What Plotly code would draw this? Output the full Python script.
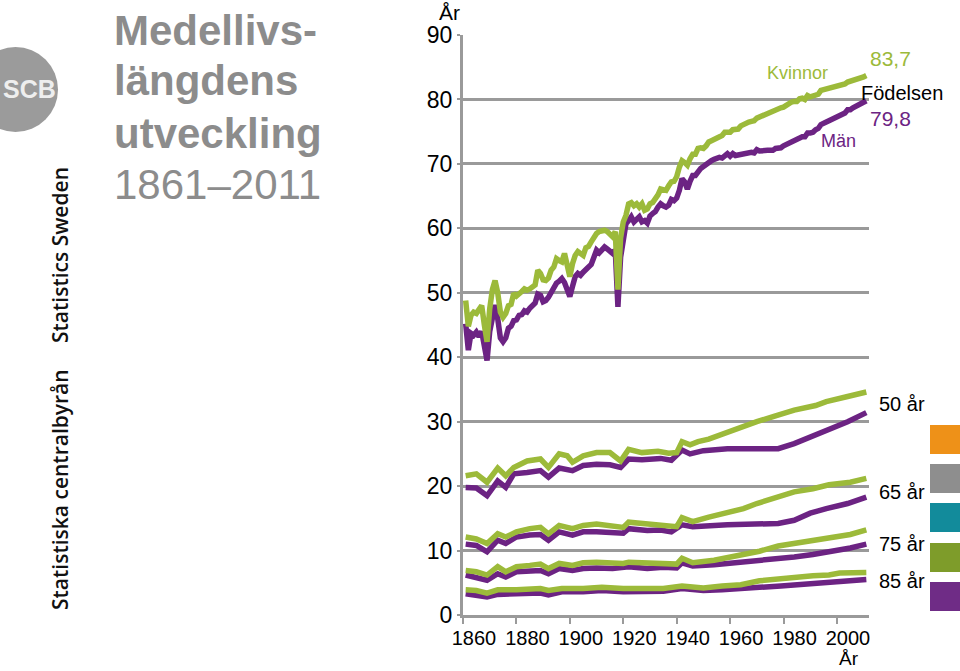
import plotly.graph_objects as go

# ---------------- data ----------------
years = list(range(1861, 2012))

women_birth = [
    48.8, 44.8, 46.5, 47.0, 46.8, 47.5, 48.0, 45.0, 42.4, 47.5,
    50.5, 51.9, 50.0, 47.0, 46.2, 46.8, 48.0, 48.2, 49.9, 49.5,
    50.0, 50.2, 50.6, 50.4, 50.6, 51.0, 51.2, 53.5, 53.0, 52.0,
    51.9, 52.3, 53.5, 54.0, 55.3, 55.0, 54.8, 56.1, 54.5, 52.5,
    54.5, 55.8, 56.4, 56.0, 55.8, 57.0, 57.2, 57.9, 58.8, 59.2,
    59.5, 59.7, 59.7, 59.5, 59.0, 58.7, 59.5, 50.5, 58.5, 61.0,
    62.0, 63.8, 64.0, 63.5, 63.8, 63.3, 63.8, 62.8, 63.0, 63.8,
    64.0, 64.5, 65.2, 66.1, 66.0, 65.9, 66.6, 67.2, 67.3, 68.0,
    69.5, 70.5, 70.2, 69.8, 70.8, 71.5, 71.5, 72.4, 72.5, 72.4,
    72.8, 73.4, 73.6, 73.8, 74.0, 74.4, 74.4, 74.9, 75.0, 74.9,
    75.3, 75.3, 75.4, 75.9, 76.1, 76.5, 76.5, 76.6, 76.7, 77.1,
    77.3, 77.4, 77.6, 77.8, 77.9, 78.1, 78.5, 78.6, 78.7, 78.8,
    79.1, 79.4, 79.6, 79.7, 79.7, 80.1, 80.2, 80.0, 80.6, 80.4,
    80.5, 80.8, 80.8, 81.4, 81.5, 81.5, 81.8, 81.9, 81.9, 82.0,
    82.1, 82.1, 82.4, 82.7, 82.8, 82.9, 83.0, 83.2, 83.3, 83.5,
    83.7,
]
men_birth = [
    45.2, 41.1, 43.7, 43.4, 43.9, 43.2, 44.0, 41.5, 39.5, 44.0,
    46.5, 48.1, 46.0, 43.0, 42.4, 43.0, 44.5, 44.8, 45.7, 45.8,
    46.5, 46.6, 47.2, 47.0, 47.6, 47.9, 48.4, 49.8, 49.6, 48.6,
    48.8, 49.3, 50.2, 50.9, 51.5, 51.8, 52.2, 51.6, 50.3, 49.4,
    51.0, 52.5, 53.0, 52.7, 53.2, 53.5, 54.0, 54.4, 55.6, 56.6,
    56.2, 56.8, 57.1, 56.8, 56.5, 56.1, 56.6, 47.8, 55.5, 59.0,
    60.7, 61.2, 61.8, 61.0, 61.5, 61.8, 61.0, 61.2, 60.8, 61.9,
    62.3, 62.6, 63.3, 63.8, 63.5, 63.3, 63.6, 64.5, 64.3, 64.7,
    65.9, 67.7, 67.2, 66.1, 67.3, 68.2, 68.2, 68.9, 69.3, 69.6,
    69.9, 70.4, 70.5, 70.7, 70.9, 71.0, 70.9, 71.4, 71.6, 71.2,
    71.6, 71.3, 71.4, 71.6, 71.6, 71.7, 71.9, 71.8, 71.7, 72.2,
    72.0, 72.1, 72.1, 72.1, 72.1, 72.1, 72.4, 72.4, 72.5, 72.8,
    73.0, 73.4, 73.6, 73.8, 73.8, 74.0, 74.2, 74.2, 74.8, 74.8,
    74.9, 75.3, 75.5, 76.1, 76.2, 76.5, 76.7, 76.9, 77.0, 77.4,
    77.6, 77.7, 77.9, 78.4, 78.4, 78.7, 78.9, 79.1, 79.3, 79.5,
    79.8,
]

w50_years = [1861, 1865, 1869, 1873, 1876, 1879, 1884, 1889, 1892, 1896, 1899, 1901, 1905, 1910, 1915, 1919,
             1922, 1927, 1933, 1937, 1940, 1942, 1945, 1948, 1952, 1959, 1964, 1970, 1977, 1984, 1992, 1996, 2004, 2011]
w50 = [21.6, 21.9, 20.6, 22.8, 21.6, 22.9, 23.9, 24.2, 22.9, 25.0, 24.7, 23.7, 24.7, 25.2, 25.2, 23.9,
       25.7, 25.2, 25.4, 25.1, 25.2, 26.9, 26.4, 26.9, 27.3, 28.4, 29.0, 30.0, 30.9, 31.8, 32.5, 33.1, 33.9, 34.6]
m50_years = [1861, 1865, 1869, 1873, 1876, 1879, 1884, 1889, 1892, 1896, 1901, 1905, 1910, 1915, 1919, 1922,
             1927, 1934, 1938, 1942, 1945, 1950, 1959, 1971, 1978, 1984, 1990, 1996, 2004, 2011]
m50 = [19.8, 19.7, 18.5, 20.8, 19.8, 21.9, 22.1, 22.4, 21.4, 22.8, 22.4, 23.2, 23.4, 23.3, 22.9, 24.2,
       24.1, 24.3, 24.0, 25.6, 25.0, 25.5, 25.8, 25.8, 25.8, 26.6, 27.6, 28.7, 30.0, 31.4]

w65_years = [1861, 1865, 1869, 1873, 1876, 1880, 1885, 1889, 1892, 1896, 1901, 1905, 1910, 1916, 1920, 1922,
             1929, 1935, 1940, 1942, 1946, 1952, 1959, 1965, 1970, 1977, 1984, 1991, 1997, 2005, 2011]
w65 = [12.1, 11.8, 11.1, 12.6, 12.1, 12.9, 13.4, 13.6, 12.6, 13.9, 13.4, 13.9, 14.1, 13.9, 13.6, 14.4,
       14.1, 13.8, 13.7, 15.1, 14.5, 15.2, 15.8, 16.5, 17.3, 18.2, 19.1, 19.6, 20.2, 20.6, 21.2]
m65_years = [1861, 1865, 1869, 1873, 1876, 1880, 1885, 1889, 1892, 1896, 1901, 1905, 1910, 1916, 1920, 1922,
             1929, 1934, 1938, 1942, 1946, 1959, 1970, 1978, 1984, 1990, 1996, 2004, 2011]
m65 = [11.0, 10.8, 9.8, 11.6, 11.1, 12.1, 12.4, 12.5, 11.6, 12.9, 12.4, 12.9, 12.9, 12.9, 12.7, 13.4,
       13.1, 13.2, 12.9, 14.0, 13.7, 14.0, 14.0, 14.2, 14.7, 15.8, 16.5, 17.3, 18.3]

w75_years = [1861, 1865, 1869, 1873, 1876, 1880, 1885, 1889, 1892, 1896, 1901, 1905, 1910, 1916, 1920, 1922,
             1929, 1935, 1940, 1942, 1946, 1954, 1960, 1966, 1971, 1978, 1984, 1991, 1997, 2005, 2011]
w75 = [6.9, 6.7, 6.2, 7.5, 6.7, 7.5, 7.7, 7.9, 7.2, 8.0, 7.7, 8.1, 8.2, 8.0, 8.0, 8.2,
       8.0, 8.0, 7.9, 8.8, 8.1, 8.5, 9.0, 9.4, 9.9, 10.7, 11.1, 11.6, 12.0, 12.5, 13.2]
m75_years = [1861, 1865, 1869, 1873, 1876, 1880, 1885, 1889, 1892, 1896, 1901, 1905, 1910, 1916, 1922, 1929,
             1935, 1940, 1942, 1946, 1954, 1960, 1970, 1978, 1984, 1991, 1997, 2005, 2011]
m75 = [6.2, 5.9, 5.4, 6.4, 5.9, 6.7, 6.8, 6.9, 6.4, 7.2, 6.9, 7.2, 7.3, 7.2, 7.5, 7.2,
       7.4, 7.3, 8.1, 7.6, 7.8, 8.0, 8.4, 8.6, 9.0, 9.4, 9.8, 10.4, 11.0]

w85_years = [1861, 1865, 1869, 1873, 1880, 1889, 1892, 1897, 1905, 1912, 1920, 1927, 1935, 1942, 1950, 1957,
             1964, 1971, 1979, 1985, 1991, 1997, 2001, 2011]
w85 = [3.9, 3.8, 3.4, 3.9, 3.9, 4.1, 3.8, 4.1, 4.1, 4.3, 4.1, 4.1, 4.1, 4.5, 4.2, 4.5,
       4.7, 5.3, 5.7, 5.9, 6.1, 6.2, 6.5, 6.6]
m85_years = [1861, 1865, 1869, 1873, 1880, 1889, 1892, 1897, 1905, 1912, 1920, 1927, 1935, 1942, 1950, 1957,
             1964, 1971, 1979, 1985, 1991, 1997, 2004, 2011]
m85 = [3.3, 3.1, 2.8, 3.2, 3.2, 3.4, 3.1, 3.6, 3.6, 3.8, 3.6, 3.6, 3.7, 4.1, 3.8, 3.9,
       4.0, 4.3, 4.5, 4.7, 4.9, 5.0, 5.3, 5.5]

x_ticks = [1860, 1880, 1900, 1920, 1940, 1960, 1980, 2000]
series_labels = ["50 år", "65 år", "75 år", "85 år"]

# ---------------- style ----------------
GREEN = "#9CBA3A"
PURPLE = "#6C2383"
GRID = "#9A9A9A"
FONT = "Liberation Sans, Arial, sans-serif"

W_FIG, H_FIG = 960, 671
L, R, T, B = 463, 869, 35, 615


def PX(x):
    return (x - L) / (R - L)


def PY(y):
    return (B - y) / (B - T)


fig = go.Figure()

pairs = [
    (years, men_birth, years, women_birth),
    (m50_years, m50, w50_years, w50),
    (m65_years, m65, w65_years, w65),
    (m75_years, m75, w75_years, w75),
    (m85_years, m85, w85_years, w85),
]
for mx, my, wx, wy in pairs:
    fig.add_trace(go.Scatter(x=mx, y=my, mode="lines",
                             line=dict(color=PURPLE, width=5.5), hoverinfo="skip"))
for mx, my, wx, wy in pairs:
    fig.add_trace(go.Scatter(x=wx, y=wy, mode="lines",
                             line=dict(color=GREEN, width=5.5), hoverinfo="skip"))

ann = []


def text(x, y, s, size, color="#000000", xanchor="left", family=FONT, weight="normal", angle=0):
    ann.append(dict(x=PX(x), y=PY(y), xref="paper", yref="paper", text=s, showarrow=False,
                    xanchor=xanchor, yanchor="middle", textangle=angle,
                    font=dict(family=family, size=size, color=color, weight=weight)))


# title
TITLE_GREY = "#8C8C8C"
text(112, 31, "Medellivs-", 42, TITLE_GREY, weight="bold")
text(112, 80, "längdens", 42, TITLE_GREY, weight="bold")
text(112, 133, "utveckling", 42, TITLE_GREY, weight="bold")
text(112, 184, "1861–2011", 42, TITLE_GREY)

# vertical brand text
text(60, 255, "Statistics Sweden", 21, "#111111", xanchor="center",
     family="Open Sans, Noto Sans, sans-serif", weight=600, angle=-90)
text(60, 490, "Statistiska centralbyrån", 21, "#111111", xanchor="center",
     family="Open Sans, Noto Sans, sans-serif", weight=600, angle=-90)

# logo text
text(29, 89, "SCB", 25, "#EEEEEE", xanchor="center", family=FONT, weight="bold")

# chart labels
text(765, 73, "Kvinnor", 18, GREEN)
text(868, 59, "83,7", 21, GREEN)
text(859, 93, "Födelsen", 20, "#000000")
text(868, 119, "79,8", 21, PURPLE)
text(819, 141, "Män", 18, PURPLE)
for lbl, yy in zip(series_labels, [404, 492, 544, 581]):
    text(877, yy, lbl, 20, "#000000")
text(449, 12, "År", 21, "#000000", xanchor="center")
text(849, 658, "År", 19, "#000000", xanchor="center")

shapes = [
    dict(type="circle", xref="paper", yref="paper", x0=PX(-27), x1=PX(58), y0=PY(132), y1=PY(47),
         fillcolor="#9B9B9B", line=dict(width=0), layer="below"),
]
sq_colors = ["#EE9118", "#8E8E8E", "#128B9B", "#7E9C2A", "#6F2C86"]
sq_tops = [425, 464, 503, 543, 582]
for c, t0 in zip(sq_colors, sq_tops):
    shapes.append(dict(type="rect", xref="paper", yref="paper", x0=PX(930), x1=PX(962),
                       y0=PY(t0 + 29), y1=PY(t0), fillcolor=c, line=dict(width=0)))

fig.update_layout(
    width=W_FIG, height=H_FIG, autosize=False,
    margin=dict(l=L, r=W_FIG - R, t=T, b=H_FIG - B, pad=0),
    paper_bgcolor="white", plot_bgcolor="white",
    showlegend=False,
    font=dict(family=FONT, color="#000000"),
    annotations=ann, shapes=shapes,
    xaxis=dict(range=[1860, 2012], tickmode="array", tickvals=x_ticks,
               ticktext=[str(v) for v in x_ticks], tickangle=0, automargin=False,
               showgrid=False, zeroline=False, showline=True, linecolor=GRID, linewidth=3,
               ticks="outside", ticklen=6, tickwidth=2, tickcolor=GRID,
               tickfont=dict(family=FONT, size=20, color="#000000"),
               ticklabelshift=11, ticklabelstandoff=-3, fixedrange=True),
    yaxis=dict(range=[0, 90], tickmode="linear", tick0=0, dtick=10, automargin=False,
               showgrid=True, gridcolor=GRID, gridwidth=3, zeroline=False,
               showline=True, linecolor=GRID, linewidth=3,
               ticks="outside", ticklen=3, tickwidth=2, tickcolor=GRID,
               tickfont=dict(family=FONT, size=23, color="#000000"), fixedrange=True),
)

fig.write_html("out.html", config={"displayModeBar": False},
               post_script="document.body.style.margin='0';document.body.style.overflow='hidden';")
